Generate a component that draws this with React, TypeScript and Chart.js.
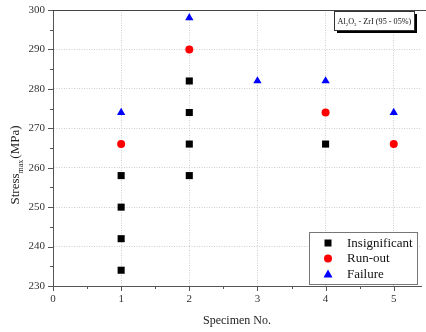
import React, { useEffect, useRef } from "react";
import { Chart, registerables } from "chart.js";

Chart.register(...registerables);

const insignificantX = [1, 1, 1, 1, 2, 2, 2, 2, 4];
const insignificantY = [234, 242, 250, 258, 258, 266, 274, 282, 266];
const runoutX = [1, 2, 4, 5];
const runoutY = [266, 290, 274, 266];
const failureX = [1, 2, 3, 4, 5];
const failureY = [274, 298, 282, 282, 274];

const xTickLabels = ["0", "1", "2", "3", "4", "5"];
const yTickLabels = ["230", "240", "250", "260", "270", "280", "290", "300"];
const seriesNames = ["Insignificant", "Run-out", "Failure"];
const noteText = ["Al", "2", "O", "3", " - ZrI (95 - 05%)"];

const SERIF = "'Liberation Serif', 'DejaVu Serif', serif";

const pts = (xs: number[], ys: number[]) => xs.map((x, i) => ({ x, y: ys[i] }));

const extrasPlugin = {
  id: "extras",
  afterDraw(chart: any) {
    const { ctx, chartArea, scales } = chart;
    const xs = scales.x;
    const ys = scales.y;
    ctx.save();
    // top border
    ctx.strokeStyle = "#444";
    ctx.lineWidth = 1;
    ctx.beginPath();
    ctx.moveTo(chartArea.left, chartArea.top + 0.5);
    ctx.lineTo(426, chartArea.top + 0.5);
    ctx.stroke();
    // ticks
    ctx.strokeStyle = "#555";
    for (let v = 230; v <= 300; v += 5) {
      const y = Math.round(ys.getPixelForValue(v)) + 0.5;
      const len = v % 10 === 0 ? 5 : 3;
      ctx.beginPath();
      ctx.moveTo(chartArea.left - len, y);
      ctx.lineTo(chartArea.left, y);
      ctx.stroke();
    }
    for (let v = 0; v <= xs.max + 0.001; v += 0.5) {
      const x = Math.round(xs.getPixelForValue(v)) + 0.5;
      const len = Math.abs(v - Math.round(v)) < 0.01 ? 5 : 3;
      ctx.beginPath();
      ctx.moveTo(x, chartArea.bottom);
      ctx.lineTo(x, chartArea.bottom + len);
      ctx.stroke();
    }
    // y title with subscript
    ctx.fillStyle = "#222";
    ctx.translate(19, 165);
    ctx.rotate(-Math.PI / 2);
    ctx.textBaseline = "alphabetic";
    const bigFont = `13px ${SERIF}`;
    const smallFont = `8px ${SERIF}`;
    ctx.font = bigFont;
    const w1 = ctx.measureText("Stress").width;
    ctx.font = smallFont;
    const w2 = ctx.measureText("max").width;
    ctx.font = bigFont;
    const w3 = ctx.measureText("(MPa)").width;
    const total = w1 + w2 + w3 + 1;
    let cx = -total / 2;
    ctx.font = bigFont;
    ctx.fillText("Stress", cx, 0);
    cx += w1;
    ctx.font = smallFont;
    ctx.fillText("max", cx, 4);
    cx += w2 + 1;
    ctx.font = bigFont;
    ctx.fillText("(MPa)", cx, 0);
    ctx.setTransform(1, 0, 0, 1, 0, 0);

    // note box
    const bx = 334, by = 11, bw = 80, bh = 19;
    ctx.fillStyle = "#000";
    ctx.fillRect(bx + 3, by + 3, bw, bh);
    ctx.fillStyle = "#fff";
    ctx.fillRect(bx, by, bw, bh);
    ctx.strokeStyle = "#333";
    ctx.lineWidth = 1;
    ctx.strokeRect(bx + 0.5, by + 0.5, bw, bh);
    ctx.fillStyle = "#111";
    const base = 10;
    const measure = (s: number) => {
      let w = 0;
      noteText.forEach((t, i) => {
        const sub = i === 1 || i === 3;
        ctx.font = `${sub ? s * 0.6 : s}px ${SERIF}`;
        w += ctx.measureText(t).width;
      });
      return w;
    };
    const tw = measure(base);
    const size = Math.min(base, (base * 74) / tw);
    let nx = bx + 3.5;
    const ny = by + 13;
    noteText.forEach((t, i) => {
      const sub = i === 1 || i === 3;
      ctx.font = `${sub ? size * 0.6 : size}px ${SERIF}`;
      ctx.fillText(t, nx, sub ? ny + 2 : ny);
      nx += ctx.measureText(t).width;
    });

    // legend
    const lx = 309, ly = 232, lw = 108, lh = 52;
    ctx.fillStyle = "#fff";
    ctx.fillRect(lx, ly, lw, lh);
    ctx.strokeStyle = "#777";
    ctx.strokeRect(lx + 0.5, ly + 0.5, lw, lh);
    const colors = ["#000", "#ff0000", "#0000ff"];
    const rowY = [243, 258.5, 274];
    seriesNames.forEach((name, i) => {
      const mx = 328, my = rowY[i];
      ctx.fillStyle = colors[i];
      ctx.beginPath();
      if (i === 0) {
        ctx.rect(mx - 3.5, my - 3.5, 7, 7);
      } else if (i === 1) {
        ctx.arc(mx, my, 4, 0, Math.PI * 2);
      } else {
        ctx.moveTo(mx, my - 4.5);
        ctx.lineTo(mx + 4.5, my + 3.5);
        ctx.lineTo(mx - 4.5, my + 3.5);
        ctx.closePath();
      }
      ctx.fill();
      ctx.fillStyle = "#111";
      ctx.font = `13px ${SERIF}`;
      ctx.textBaseline = "middle";
      ctx.fillText(name, 347, my + 0.5);
    });
    ctx.restore();
  },
};

export default function App() {
  const ref = useRef<HTMLCanvasElement>(null);
  useEffect(() => {
    document.body.style.margin = "0";
    const chart = new Chart(ref.current!, {
      type: "scatter",
      data: {
        datasets: [
          {
            label: seriesNames[0],
            data: pts(insignificantX, insignificantY),
            pointStyle: "rect",
            pointRadius: 5,
            backgroundColor: "#000",
            borderColor: "#000",
            borderWidth: 0,
          },
          {
            label: seriesNames[1],
            data: pts(runoutX, runoutY),
            pointStyle: "circle",
            pointRadius: 4,
            backgroundColor: "#ff0000",
            borderColor: "#ff0000",
            borderWidth: 0,
          },
          {
            label: seriesNames[2],
            data: pts(failureX, failureY),
            pointStyle: "triangle",
            pointRadius: 4.8,
            backgroundColor: "#0000ff",
            borderColor: "#0000ff",
            borderWidth: 0,
          },
        ],
      },
      options: {
        responsive: false,
        animation: false,
        layout: { padding: { top: 10, right: 0, left: 0, bottom: 0 } },
        plugins: { legend: { display: false }, tooltip: { enabled: false } },
        scales: {
          x: {
            type: "linear",
            min: 0,
            max: 5.4,
            afterBuildTicks: (s: any) => {
              s.ticks = xTickLabels.map((t) => ({ value: Number(t) }));
            },
            afterFit: (s: any) => {
              s.height = 46;
              s.paddingRight = 0;
              s.paddingLeft = 0;
            },
            ticks: {
              padding: 7,
              color: "#333",
              font: { family: SERIF, size: 11 },
              callback: (v: any) => String(v),
            },
            grid: {
              drawTicks: false,
              color: (c: any) => (c.tick && c.tick.value === 0 ? "rgba(0,0,0,0)" : "#cfcfcf"),
              lineWidth: 1,
            },
            border: { display: true, color: "#555", dash: [1, 1.5] as any },
            title: {
              display: true,
              text: "Specimen No.",
              color: "#222",
              font: { family: SERIF, size: 12 },
              padding: { top: 2, bottom: 4 },
            },
          },
          y: {
            type: "linear",
            min: 230,
            max: 300,
            afterBuildTicks: (s: any) => {
              s.ticks = yTickLabels.map((t) => ({ value: Number(t) }));
            },
            afterFit: (s: any) => {
              s.width = 53;
              s.paddingTop = 0;
              s.paddingBottom = 0;
            },
            ticks: {
              padding: 8,
              color: "#333",
              font: { family: SERIF, size: 11 },
              callback: (v: any) => String(v),
            },
            grid: {
              drawTicks: false,
              color: (c: any) =>
                c.tick && (c.tick.value === 230 || c.tick.value === 300) ? "rgba(0,0,0,0)" : "#cfcfcf",
              lineWidth: 1,
            },
            border: { display: true, color: "#555", dash: [1, 1.5] as any },
          },
        },
      },
      plugins: [extrasPlugin],
    } as any);
    return () => chart.destroy();
  }, []);
  return <canvas ref={ref} width={426} height={332} style={{ display: "block" }} />;
}
